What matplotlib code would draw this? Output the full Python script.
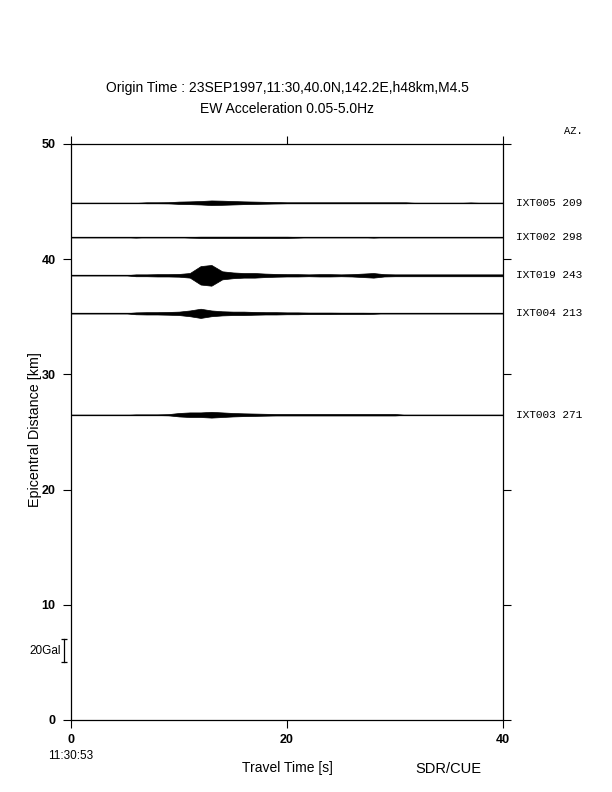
import matplotlib
matplotlib.use('Agg')
import matplotlib.pyplot as plt
import numpy as np

# station name, azimuth, epicentral distance [km]
stations = ['IXT005', 'IXT002', 'IXT019', 'IXT004', 'IXT003']
azimuth = [209, 298, 243, 213, 271]
distance = [44.9, 41.9, 38.6, 35.3, 26.5]

# travel time axis [s], one value per second
t = np.arange(0, 41)

# envelope amplitudes [Gal], one per second
amp_IXT005 = [0, 0, 0, 0, 0, 0, 0, 0.4, 0.4, 0.5, 1.0, 1.2, 1.5, 2.0, 1.8, 1.5, 1.2, 1.0, 0.8, 0.6,
              0.4, 0.4, 0.4, 0.4, 0.4, 0.4, 0.4, 0.4, 0.4, 0.4, 0.4, 0.4, 0, 0, 0, 0, 0, 0.3, 0, 0, 0]
amp_IXT002 = [0, 0, 0, 0, 0, 0, 0.3, 0, 0, 0, 0, 0.3, 0.5, 0.5, 0.5, 0.5, 0.5, 0.5, 0.5, 0.5,
              0.5, 0.3, 0, 0, 0, 0, 0, 0, 0.3, 0, 0, 0, 0, 0, 0, 0, 0, 0, 0, 0, 0]
amp_IXT019 = [0, 0, 0, 0, 0, 0, 0.8, 0.8, 1.0, 1.0, 1.2, 2.0, 8.0, 9.0, 3.5, 2.5, 2.0, 2.0, 1.5, 1.2,
              1.0, 1.0, 0.8, 1.0, 1.0, 0.8, 1.0, 1.5, 2.0, 1.0, 0.8, 0.8, 0.8, 0.8, 0.8, 0.8, 0.8, 0.8, 0.8, 0.8, 0.8]
amp_IXT004 = [0, 0, 0, 0, 0, 0, 0.8, 1.0, 1.0, 1.2, 1.5, 2.5, 4.0, 2.5, 1.8, 1.5, 1.5, 1.2, 1.0, 1.0,
              0.8, 0.8, 0.6, 0.6, 0.6, 0.5, 0.5, 0.5, 0.4, 0, 0, 0, 0, 0, 0, 0, 0, 0, 0, 0, 0]
amp_IXT003 = [0, 0, 0, 0, 0, 0, 0.3, 0.3, 0.3, 0.5, 1.5, 2.0, 2.0, 2.5, 2.0, 1.5, 1.2, 1.0, 0.8, 0.6,
              0.6, 0.6, 0.6, 0.6, 0.6, 0.6, 0.6, 0.6, 0.6, 0.6, 0.6, 0, 0, 0, 0, 0, 0, 0, 0, 0, 0]
amps = [amp_IXT005, amp_IXT002, amp_IXT019, amp_IXT004, amp_IXT003]

gal_to_km = 2.0 / 20.0   # 20 Gal scale bar spans 2 km
xticks = [0, 20, 40]
yticks = [0, 10, 20, 30, 40, 50]

plt.rcParams['font.family'] = ['Liberation Sans', 'DejaVu Sans']

fig = plt.figure(figsize=(6.12, 7.92), dpi=100)
ax = fig.add_axes([71/612, 72/792, 432/612, 576/792])

for name, az, d, a in zip(stations, azimuth, distance, amps):
    a = np.array(a) * gal_to_km
    ax.axhline(d, color='black', lw=0.9)
    ax.fill_between(t, d - a, d + a, color='black', lw=0.5)
    ax.text(1.03, d, name + ' ' + str(az), transform=ax.get_yaxis_transform(),
            family='Liberation Mono', fontsize=8, va='center', ha='left')

ax.set_xlim(0, 40)
ax.set_ylim(0, 50)
ax.set_xticks(xticks)
ax.set_yticks(yticks)
ax.tick_params(direction='out', length=6, width=0.8, top=True, right=True,
               labelsize=9, pad=5)
ax.tick_params(axis='x', pad=4)
for lab in ax.get_xticklabels() + ax.get_yticklabels():
    lab.set_fontweight('bold')
for s in ax.spines.values():
    s.set_linewidth(0.9)

ax.set_ylabel('Epicentral Distance [km]', fontsize=10.3)
ax.yaxis.set_label_coords(-0.067, 0.505)
ax.set_xlabel('Travel Time [s]', fontsize=10, labelpad=11)

fig.text(287/612, 1 - 88/792, 'Origin Time : 23SEP1997,11:30,40.0N,142.2E,h48km,M4.5',
         ha='center', va='center', fontsize=10)
fig.text(287/612, 1 - 109/792, 'EW Acceleration 0.05-5.0Hz',
         ha='center', va='center', fontsize=10)
fig.text(573/612, 1 - 131/792, 'AZ.', family='Liberation Mono', fontsize=7.5,
         ha='center', va='center')
fig.text(71/612, 1 - 756/792, '11:30:53', ha='center', va='center', fontsize=8.5)
fig.text(448/612, 1 - 769/792, 'SDR/CUE', ha='center', va='center', fontsize=10.5)

# 20 Gal scale bar
ax.plot([-0.65, -0.65], [5, 7], color='black', lw=0.9, clip_on=False)
ax.plot([-0.65, -0.65], [5, 7], color='black', lw=0, marker='_', ms=4, mew=0.9,
        clip_on=False)
ax.text(-0.95, 6, '20Gal', ha='right', va='center', fontsize=8.5)

fig.savefig('out.png', dpi=100)
